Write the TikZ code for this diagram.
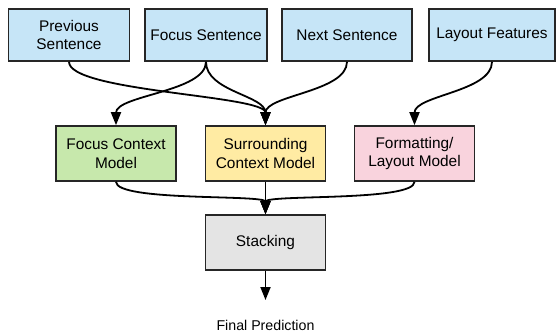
\documentclass[tikz,border=0pt]{standalone}
\usepackage{fontspec}
\setmainfont{Liberation Sans}
\usetikzlibrary{arrows.meta}
\definecolor{inblue}{HTML}{C6E5F7}
\definecolor{modgreen}{HTML}{C7E8AC}
\definecolor{modyellow}{HTML}{FFEBA3}
\definecolor{modpink}{HTML}{F9D3DD}
\definecolor{stackgray}{HTML}{E4E4E4}
\tikzset{box/.style={draw=black!85,line width=1.6pt,align=center,inner sep=1pt,
        font=\fontsize{15.4}{18.5}\selectfont},
        input/.style={box,fill=inblue,minimum height=52pt},
        model/.style={box,minimum width=120pt,minimum height=55pt},
        flow/.style={-{Triangle[length=13pt,width=10pt]},line width=1.8pt,black},
        bend/.style={out=-90,in=90,distance=#1}}

\begin{document}
\begin{tikzpicture}[x=1pt,y=-1pt]
  \useasboundingbox (0,0) rectangle (557,334);
  % inputs
  \node[input,minimum width=121pt] (prev) at (69,35) {Previous\\Sentence};
  \node[input,minimum width=122pt] (focus) at (206,35) {Focus Sentence};
  \node[input,minimum width=130pt] (next) at (347,35) {Next Sentence};
  \node[input,minimum width=126pt] (layout) at (492,35) {Layout Features};
  % models
  \node[model,fill=modgreen] (fcm) at (116,153.5) {Focus Context\\Model};
  \node[model,fill=modyellow] (scm) at (265.5,153.5) {Surrounding\\Context Model};
  \node[model,fill=modpink] (flm) at (414.5,153.5) {Formatting/\\Layout Model};
  \node[model,fill=stackgray] (stack) at (265.5,242.5) {Stacking};
  \node[font=\fontsize{14.2}{17}\selectfont] (final) at (265.5,325) {Final Prediction};
  \coordinate (out) at (265.5,300);
  % connectors
  \draw[flow] (prev.south) to[bend=30pt] (scm.north);
  \draw[flow] (focus.south) to[bend=30pt] (fcm.north);
  \draw[flow] (focus.south) to[bend=30pt] (scm.north);
  \draw[flow] (next.south) to[bend=30pt] (scm.north);
  \draw[flow] (layout.south) to[bend=30pt] (flm.north);
  \draw[flow] (fcm.south) to[bend=20pt] (stack.north);
  \draw[flow] (scm.south) -- (stack.north);
  \draw[flow] (flm.south) to[bend=20pt] (stack.north);
  \draw[flow] (stack.south) -- (out);
\end{tikzpicture}
\end{document}
